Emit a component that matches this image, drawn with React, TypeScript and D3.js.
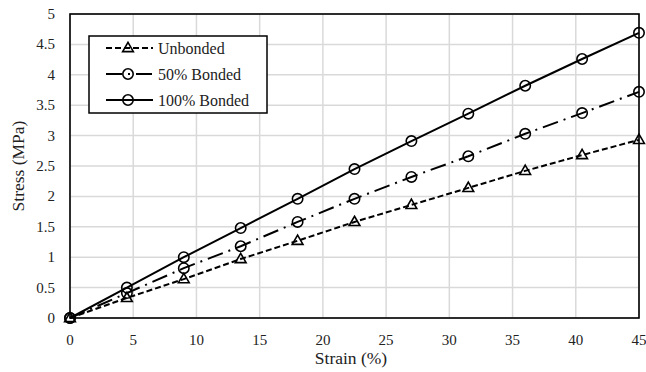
import React from "react";
import * as d3 from "d3";

const strain = [0, 4.5, 9, 13.5, 18, 22.5, 27, 31.5, 36, 40.5, 45];
const unbonded = [0, 0.33, 0.64, 0.97, 1.27, 1.58, 1.86, 2.14, 2.42, 2.68, 2.93];
const bonded50 = [0, 0.41, 0.82, 1.18, 1.58, 1.96, 2.32, 2.66, 3.03, 3.37, 3.72];
const bonded100 = [0, 0.5, 1.0, 1.48, 1.96, 2.45, 2.91, 3.36, 3.82, 4.26, 4.69];
const xTicks = [0, 5, 10, 15, 20, 25, 30, 35, 40, 45];
const yTicks = [0, 0.5, 1, 1.5, 2, 2.5, 3, 3.5, 4, 4.5, 5];
const seriesNames = ["Unbonded", "50% Bonded", "100% Bonded"];

const W = 646, H = 372;
const M = { left: 70, right: 639, top: 14, bottom: 318 };
const font = "'Liberation Serif', 'Times New Roman', serif";

export default function App() {
  const x = d3.scaleLinear().domain([0, 45]).range([M.left, M.right]);
  const y = d3.scaleLinear().domain([0, 5]).range([M.bottom, M.top]);
  const line = d3.line<[number, number]>().x(d => x(d[0])).y(d => y(d[1]));
  const series = [
    { name: seriesNames[0], vals: unbonded, dash: "6,3", marker: "tri" },
    { name: seriesNames[1], vals: bonded50, dash: "16,6,2,6", marker: "circ" },
    { name: seriesNames[2], vals: bonded100, dash: "", marker: "circ" },
  ];
  const tri = d3.symbol().type(d3.symbolTriangle).size(50)();
  const marker = (kind: string, cx: number, cy: number, key: any) =>
    kind === "tri" ? (
      <path key={key} d={tri || ""} transform={`translate(${cx},${cy + 0.5})`} fill="none" stroke="#000" strokeWidth={1.6} />
    ) : (
      <circle key={key} cx={cx} cy={cy} r={5.2} fill="none" stroke="#000" strokeWidth={1.6} />
    );
  const legend = { x: 89, y: 36, w: 178, h: 77 };
  return (
    <svg width={W} height={H} style={{ position: "absolute", left: 0, top: 0, background: "#fff" }} fontFamily={font}>
      {xTicks.map(t => (
        <line key={"gx" + t} x1={x(t)} x2={x(t)} y1={M.top} y2={M.bottom} stroke="#d9d9d9" strokeWidth={1.5} />
      ))}
      {yTicks.map(t => (
        <line key={"gy" + t} x1={M.left} x2={M.right} y1={y(t)} y2={y(t)} stroke="#d9d9d9" strokeWidth={1.5} />
      ))}
      <rect x={M.left} y={M.top} width={M.right - M.left} height={M.bottom - M.top} fill="none" stroke="#000" strokeWidth={1.6} />
      {xTicks.map(t => (
        <text key={"tx" + t} x={x(t)} y={345} textAnchor="middle" fontSize={15} fill="#222">{t}</text>
      ))}
      {yTicks.map(t => (
        <text key={"ty" + t} x={55} y={y(t) + 5} textAnchor="end" fontSize={15} fill="#222">{t}</text>
      ))}
      <text x={351} y={364} textAnchor="middle" fontSize={17.5} fill="#222">Strain (%)</text>
      <text transform={`translate(24,${(M.top + M.bottom) / 2}) rotate(-90)`} textAnchor="middle" fontSize={17.5} fill="#222">Stress (MPa)</text>
      {series.map((s, i) => (
        <g key={s.name}>
          <path d={line(strain.map((v, j) => [v, s.vals[j]] as [number, number])) || ""} fill="none" stroke="#000" strokeWidth={2} strokeDasharray={s.dash || undefined} />
          {strain.map((v, j) => marker(s.marker, x(v), y(s.vals[j]), j))}
        </g>
      ))}
      <rect x={legend.x} y={legend.y} width={legend.w} height={legend.h} fill="#fff" stroke="#000" strokeWidth={1.5} />
      {series.map((s, i) => {
        const ly = 48 + i * 26;
        return (
          <g key={"lg" + i}>
            <line x1={106} x2={153} y1={ly} y2={ly} stroke="#000" strokeWidth={2} strokeDasharray={s.dash || undefined} />
            {marker(s.marker, 128, ly, "m")}
            <text x={158} y={ly + 5.5} fontSize={16} fill="#222">{s.name}</text>
          </g>
        );
      })}
    </svg>
  );
}
